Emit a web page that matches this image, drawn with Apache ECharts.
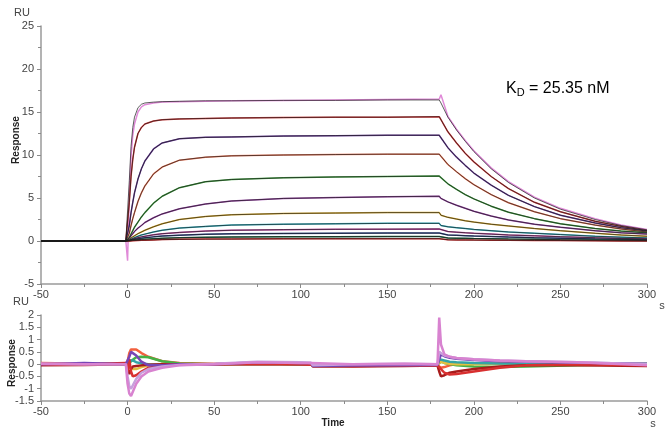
<!DOCTYPE html>
<html>
<head>
<meta charset="utf-8">
<script src="https://cdn.jsdelivr.net/npm/echarts@6/dist/echarts.min.js"></script>
<style>
  html, body {margin: 0; padding: 0; background: #fff;}
  #main {width: 665px; height: 431px;}
</style>
</head>
<body>
<div id="main"></div>
<script>
// sensorgram, time in s
var timeTop = [-50, -25, -1, 0, 1, 2, 3, 4, 6, 8, 10, 15, 20, 30, 45, 60, 90, 120, 150, 180,
    181, 185, 190, 195, 200, 210, 220, 235, 250, 270, 285, 300];

// fitted curves (black), one per concentration
var fit1 = [0.02, -0.02, 0, 0, 7.0, 11.0, 13.2, 14.4, 15.5, 15.9, 16.05, 16.15, 16.2, 16.25, 16.3, 16.3, 16.35, 16.35, 16.4, 16.4, 16.05, 14.4, 12.9, 11.6, 10.4, 8.4, 6.8, 5.0, 3.7, 2.5, 1.8, 1.3];
var fit2 = [0, 0.02, 0, 0, 4.5, 7.5, 9.5, 10.9, 12.5, 13.2, 13.6, 13.95, 14.1, 14.2, 14.25, 14.3, 14.35, 14.4, 14.4, 14.45, 14.1, 12.7, 11.4, 10.2, 9.2, 7.5, 6.1, 4.5, 3.4, 2.3, 1.7, 1.2];
var fit3 = [0, 0, 0, 0, 1.8, 3.3, 4.5, 5.6, 7.2, 8.4, 9.3, 10.7, 11.4, 11.9, 12.05, 12.1, 12.2, 12.25, 12.3, 12.3, 12.0, 10.85, 9.75, 8.8, 7.9, 6.5, 5.3, 4.0, 3.0, 2.1, 1.55, 1.15];
var fit4 = [0, 0, 0, 0, 0.9, 1.8, 2.6, 3.3, 4.6, 5.6, 6.4, 7.8, 8.6, 9.4, 9.75, 9.9, 10.0, 10.05, 10.1, 10.1, 9.85, 8.9, 8.05, 7.25, 6.55, 5.4, 4.45, 3.4, 2.6, 1.85, 1.4, 1.05];
var fit5 = [0, 0, 0, 0, 0.4, 0.8, 1.2, 1.6, 2.2, 2.8, 3.3, 4.4, 5.2, 6.2, 6.9, 7.15, 7.35, 7.45, 7.5, 7.55, 7.35, 6.65, 6.0, 5.4, 4.9, 4.05, 3.35, 2.6, 2.0, 1.45, 1.15, 0.95];
var fit6 = [0, 0, 0, 0, 0.3, 0.6, 0.85, 1.1, 1.5, 1.8, 2.15, 2.7, 3.15, 3.75, 4.3, 4.65, 4.95, 5.05, 5.15, 5.2, 4.95, 4.55, 4.15, 3.8, 3.45, 2.9, 2.45, 1.95, 1.6, 1.2, 0.95, 0.8];
var fit7 = [0, 0, 0, 0, 0.2, 0.35, 0.48, 0.6, 0.85, 1.05, 1.25, 1.65, 2.0, 2.5, 2.85, 3.05, 3.2, 3.25, 3.3, 3.3, 3.0, 2.75, 2.55, 2.35, 2.2, 1.95, 1.75, 1.45, 1.2, 0.9, 0.7, 0.55];
var fit8 = [0, 0, 0, 0, 0.1, 0.2, 0.3, 0.4, 0.55, 0.7, 0.8, 1.05, 1.25, 1.5, 1.7, 1.85, 1.95, 2.0, 2.05, 2.05, 1.8, 1.65, 1.55, 1.45, 1.35, 1.2, 1.05, 0.9, 0.75, 0.55, 0.45, 0.35];
var fit9 = [0, 0, 0, 0, 0.08, 0.15, 0.22, 0.28, 0.38, 0.48, 0.55, 0.72, 0.85, 1.0, 1.15, 1.25, 1.32, 1.36, 1.38, 1.4, 1.2, 1.1, 1.03, 0.96, 0.9, 0.8, 0.7, 0.6, 0.5, 0.38, 0.3, 0.25];
var fit10 = [0, 0, 0, 0, 0.05, 0.1, 0.14, 0.18, 0.25, 0.32, 0.37, 0.48, 0.57, 0.68, 0.78, 0.83, 0.88, 0.9, 0.92, 0.92, 0.75, 0.7, 0.66, 0.62, 0.58, 0.52, 0.46, 0.38, 0.32, 0.24, 0.19, 0.15];
var fit11 = [0, 0, 0, 0, 0.03, 0.05, 0.08, 0.1, 0.14, 0.17, 0.2, 0.26, 0.31, 0.38, 0.43, 0.46, 0.49, 0.5, 0.51, 0.52, 0.38, 0.35, 0.33, 0.31, 0.29, 0.26, 0.23, 0.19, 0.15, 0.11, 0.08, 0.05];
var fit12 = [0, 0, 0, 0, 0.01, 0.03, 0.04, 0.05, 0.07, 0.09, 0.1, 0.13, 0.16, 0.19, 0.22, 0.23, 0.25, 0.26, 0.26, 0.27, 0.15, 0.14, 0.13, 0.12, 0.11, 0.1, 0.08, 0.06, 0.05, 0.03, 0.01, 0.0];

// measured top curve (pink), with injection spikes
var data1 = [0.02, -0.02, 0, -2.3, 5.5, 9.8, 12.3, 13.6, 15.0, 15.6, 15.85, 16.05, 16.15, 16.2, 16.25, 16.3, 16.35, 16.4, 16.45, 16.5, 17.0, 14.5, 13.0, 11.7, 10.5, 8.5, 6.9, 5.1, 3.8, 2.6, 1.85, 1.35];

var fits = [fit1, fit2, fit3, fit4, fit5, fit6, fit7, fit8, fit9, fit10, fit11, fit12];
var dataColors = ['#e08ad8', '#d33a3a', '#6a3d9a', '#f07a5a', '#3f9f3f', '#9a45a8',
    '#e0b030', '#35b5c5', '#c04aa5', '#304a90', '#1f6a45', '#d02a2a'];

// residuals
var timeRes = [-50, -25, -1, 0, 1, 2, 3, 5, 8, 12, 20, 30, 50, 75, 100, 106, 107, 130, 160, 179,
    180, 181, 183, 186, 190, 200, 215, 230, 260, 300];
var resOrange = [0.05, 0.02, 0.0, 0.1, 0.45, 0.6, 0.65, 0.6, 0.45, 0.3, 0.12, 0.05, 0.02, 0.05, 0.0, -0.02, -0.08, -0.06, -0.05, -0.05, -0.1, -0.15, -0.12, -0.05, 0.0, 0.02, 0.03, 0.02, 0.0, -0.02];
var resGreen = [0.0, -0.02, 0.0, 0.0, 0.05, 0.1, 0.18, 0.28, 0.3, 0.28, 0.12, 0.03, 0.0, 0.02, 0.0, 0.0, -0.05, -0.04, -0.03, -0.02, -0.05, 0.1, 0.05, 0.0, -0.05, -0.1, -0.12, -0.1, -0.05, 0.02];
var resYellow = [0.0, 0.0, 0.0, 0.0, -0.1, -0.15, -0.2, -0.2, -0.12, -0.06, -0.03, 0.0, 0.0, 0.02, 0.0, 0.0, -0.05, -0.04, -0.03, -0.02, 0.05, 0.1, 0.05, 0.02, 0.0, 0.0, 0.02, 0.03, 0.02, 0.0];
var resTeal = [0.0, 0.0, 0.0, 0.0, 0.15, 0.2, 0.15, 0.08, 0.03, 0.0, -0.02, 0.0, 0.0, 0.02, 0.0, 0.0, -0.06, -0.05, -0.04, -0.03, 0.2, 0.25, 0.15, 0.1, 0.08, 0.05, 0.03, 0.02, 0.0, 0.0];
var resDarkRed = [-0.05, -0.03, 0.0, -0.2, -0.4, -0.2, -0.1, -0.08, -0.05, -0.02, 0.0, 0.0, 0.0, 0.0, 0.0, 0.0, -0.1, -0.1, -0.08, -0.06, -0.3, -0.5, -0.45, -0.35, -0.3, -0.2, -0.1, -0.05, -0.05, -0.08];
var resRed = [-0.02, 0.0, 0.05, -0.3, 0.2, -0.3, -0.5, -0.45, -0.3, -0.15, -0.05, 0.0, 0.0, 0.02, 0.0, -0.02, -0.1, -0.08, -0.06, -0.05, -0.1, -0.2, -0.35, -0.42, -0.4, -0.3, -0.15, -0.05, 0.0, -0.05];
var resPurple = [0.0, 0.05, 0.0, 0.0, 0.3, 0.5, 0.55, 0.35, 0.1, -0.05, -0.05, 0.0, 0.0, 0.08, 0.05, 0.05, -0.08, -0.06, -0.04, -0.03, 0.2, 0.4, 0.32, 0.26, 0.22, 0.17, 0.12, 0.1, 0.06, 0.02];
var resViolet = [0.02, 0.0, 0.0, -0.5, -0.9, -1.0, -0.95, -0.6, -0.35, -0.2, -0.1, -0.03, 0.02, 0.1, 0.08, 0.05, -0.05, 0.0, 0.02, 0.0, 0.5, 0.45, 0.35, 0.3, 0.25, 0.2, 0.15, 0.12, 0.08, 0.0];
var resPink = [0.02, 0.0, 0.0, -0.8, -1.2, -1.3, -1.25, -0.8, -0.5, -0.3, -0.15, -0.05, 0.0, 0.08, 0.05, 0.05, -0.02, 0.0, 0.02, 0.0, 1.9, 0.8, 0.4, 0.3, 0.25, 0.2, 0.15, 0.12, 0.08, -0.05];

var residuals = [resOrange, resGreen, resYellow, resTeal, resDarkRed, resRed, resPurple, resViolet, resPink];
var resColors = ['#f2603e', '#45b045', '#e5c040', '#35a5a5', '#a81c1c', '#d83030', '#7645b5', '#c7a0dc', '#d883d0'];

function pairs(xs, ys) {
    var out = [];
    for (var i = 0; i < xs.length; i++) {
        out.push([xs[i], ys[i]]);
    }
    return out;
}

var font = 'Liberation Sans, Arial, sans-serif';
var axisCommon = {
    axisLine: {onZero: false, lineStyle: {color: '#9a9a9a', width: 1.5}},
    axisTick: {inside: false, length: 4, lineStyle: {color: '#8a8a8a'}},
    minorTick: {show: true, splitNumber: 2, length: 3, lineStyle: {color: '#8a8a8a'}},
    splitLine: {show: false},
    axisLabel: {color: '#444', fontSize: 11, fontFamily: font}
};

function axis(extra) {
    var a = JSON.parse(JSON.stringify(axisCommon));
    for (var k in extra) {
        if (typeof extra[k] === 'object' && a[k]) {
            for (var j in extra[k]) a[k][j] = extra[k][j];
        } else {
            a[k] = extra[k];
        }
    }
    return a;
}

var series = [];
fits.forEach(function (f, i) {
    series.push({
        type: 'line', xAxisIndex: 0, yAxisIndex: 0, showSymbol: false, silent: true,
        data: pairs(timeTop, i === 0 ? data1 : f),
        lineStyle: {color: dataColors[i], width: 1.5}, z: 2
    });
});
fits.forEach(function (f) {
    series.push({
        type: 'line', xAxisIndex: 0, yAxisIndex: 0, showSymbol: false, silent: true,
        data: pairs(timeTop, f),
        lineStyle: {color: '#1a1a1a', width: 0.7}, z: 3
    });
});
residuals.forEach(function (r, i) {
    series.push({
        type: 'line', xAxisIndex: 1, yAxisIndex: 1, showSymbol: false, silent: true,
        data: pairs(timeRes, r),
        lineStyle: {color: resColors[i], width: 2.5}, z: 2
    });
});

var chart = echarts.init(document.getElementById('main'));
chart.setOption({
    animation: false,
    backgroundColor: '#fff',
    grid: [
        {left: 41, top: 26, width: 606, height: 258},
        {left: 41, top: 315, width: 606, height: 86}
    ],
    xAxis: [
        axis({type: 'value', gridIndex: 0, min: -50, max: 300, interval: 50, axisLabel: {margin: 5}}),
        axis({type: 'value', gridIndex: 1, min: -50, max: 300, interval: 50, axisLabel: {margin: 5}})
    ],
    yAxis: [
        axis({type: 'value', gridIndex: 0, min: -5, max: 25, interval: 5, axisLabel: {margin: 7}}),
        axis({type: 'value', gridIndex: 1, min: -1.5, max: 2, interval: 0.5, axisLabel: {margin: 7},
            minorTick: {show: false}})
    ],
    graphic: [
        {type: 'text', left: 14, top: 7, style: {text: 'RU', fill: '#444', font: '11px ' + font}},
        {type: 'text', left: 13, top: 296, style: {text: 'RU', fill: '#444', font: '11px ' + font}},
        {type: 'text', x: 16, y: 140, rotation: Math.PI / 2,
            style: {text: 'Response', fill: '#222', font: 'bold 10px ' + font, align: 'center', verticalAlign: 'middle'}},
        {type: 'text', x: 12, y: 363, rotation: Math.PI / 2,
            style: {text: 'Response', fill: '#222', font: 'bold 10px ' + font, align: 'center', verticalAlign: 'middle'}},
        {type: 'text', x: 333, y: 423,
            style: {text: 'Time', fill: '#222', font: 'bold 10px ' + font, align: 'center', verticalAlign: 'middle'}},
        {type: 'text', x: 662, y: 306,
            style: {text: 's', fill: '#444', font: '11px ' + font, align: 'center', verticalAlign: 'middle'}},
        {type: 'text', x: 653, y: 424,
            style: {text: 's', fill: '#444', font: '11px ' + font, align: 'center', verticalAlign: 'middle'}},
        {type: 'text', left: 506, top: 81,
            style: {
                text: '{a|K}{b|D}{a| = 25.35 nM}',
                rich: {
                    a: {fontSize: 16, fontFamily: font, color: '#111'},
                    b: {fontSize: 11, fontFamily: font, color: '#111', padding: [8, 0, 0, 0]}
                }
            }}
    ],
    series: series
});
</script>
</body>
</html>
